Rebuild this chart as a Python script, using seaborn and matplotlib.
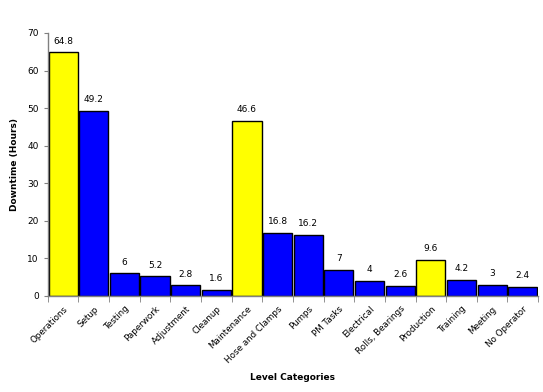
import matplotlib
matplotlib.use("Agg")
import matplotlib.pyplot as plt
import pandas as pd
import seaborn as sns

categories = ["Operations", "Setup", "Testing", "Paperwork", "Adjustment", "Cleanup",
              "Maintenance", "Hose and Clamps", "Pumps", "PM Tasks", "Electrical",
              "Rolls, Bearings", "Production", "Training", "Meeting", "No Operator"]
downtime = [64.8, 49.2, 6, 5.2, 2.8, 1.6, 46.6, 16.8, 16.2, 7, 4, 2.6, 9.6, 4.2, 3, 2.4]
level = ["main", "sub", "sub", "sub", "sub", "sub", "main", "sub", "sub", "sub", "sub",
         "sub", "main", "sub", "sub", "sub"]
value_labels = ["64.8", "49.2", "6", "5.2", "2.8", "1.6", "46.6", "16.8", "16.2", "7",
                "4", "2.6", "9.6", "4.2", "3", "2.4"]

palette = {"main": "#ffff00", "sub": "#0000ff"}

df = pd.DataFrame({"category": categories, "downtime": downtime, "level": level})

sns.set_style("white")
plt.rcParams["font.family"] = ["DejaVu Sans"]
plt.rcParams["text.color"] = "black"
plt.rcParams["axes.labelcolor"] = "black"
plt.rcParams["xtick.color"] = "black"
plt.rcParams["ytick.color"] = "black"

fig = plt.figure(figsize=(5.43, 3.92), dpi=100)
ax = fig.add_axes([0.088, 0.245, 0.903, 0.671])

sns.barplot(data=df, x="category", y="downtime", hue="level", palette=palette,
            dodge=False, width=0.95, edgecolor="black", linewidth=1.0,
            saturation=1, legend=False, ax=ax)

for i, (v, lab) in enumerate(zip(downtime, value_labels)):
    ax.text(i, v + 1.8, lab, ha="center", va="bottom", fontsize=6.5)

ax.set_xlim(-0.5, len(categories) - 0.5)
ax.set_ylim(0, 70)
ax.set_yticks(range(0, 71, 10))
ax.tick_params(axis="y", labelsize=6.5, length=3, color="#808080", direction="out", left=True)
ax.set_xticks(range(len(categories)))
ax.set_xticklabels(categories, rotation=45, ha="right", rotation_mode="anchor", fontsize=6.3)
ax.tick_params(axis="x", which="major", length=0, pad=6)
ax.set_xticks([i - 0.5 for i in range(len(categories) + 1)], minor=True)
ax.tick_params(axis="x", which="minor", length=4, color="#808080", direction="out", bottom=True)

for s in ["top", "right"]:
    ax.spines[s].set_visible(False)
for s in ["left", "bottom"]:
    ax.spines[s].set_color("#808080")
    ax.spines[s].set_linewidth(1.0)

ax.set_ylabel("Downtime (Hours)", fontsize=6.5, fontweight="bold", labelpad=6)
ax.set_xlabel("Level Categories", fontsize=6.5, fontweight="bold", labelpad=6)

fig.savefig("out.png", dpi=100)
